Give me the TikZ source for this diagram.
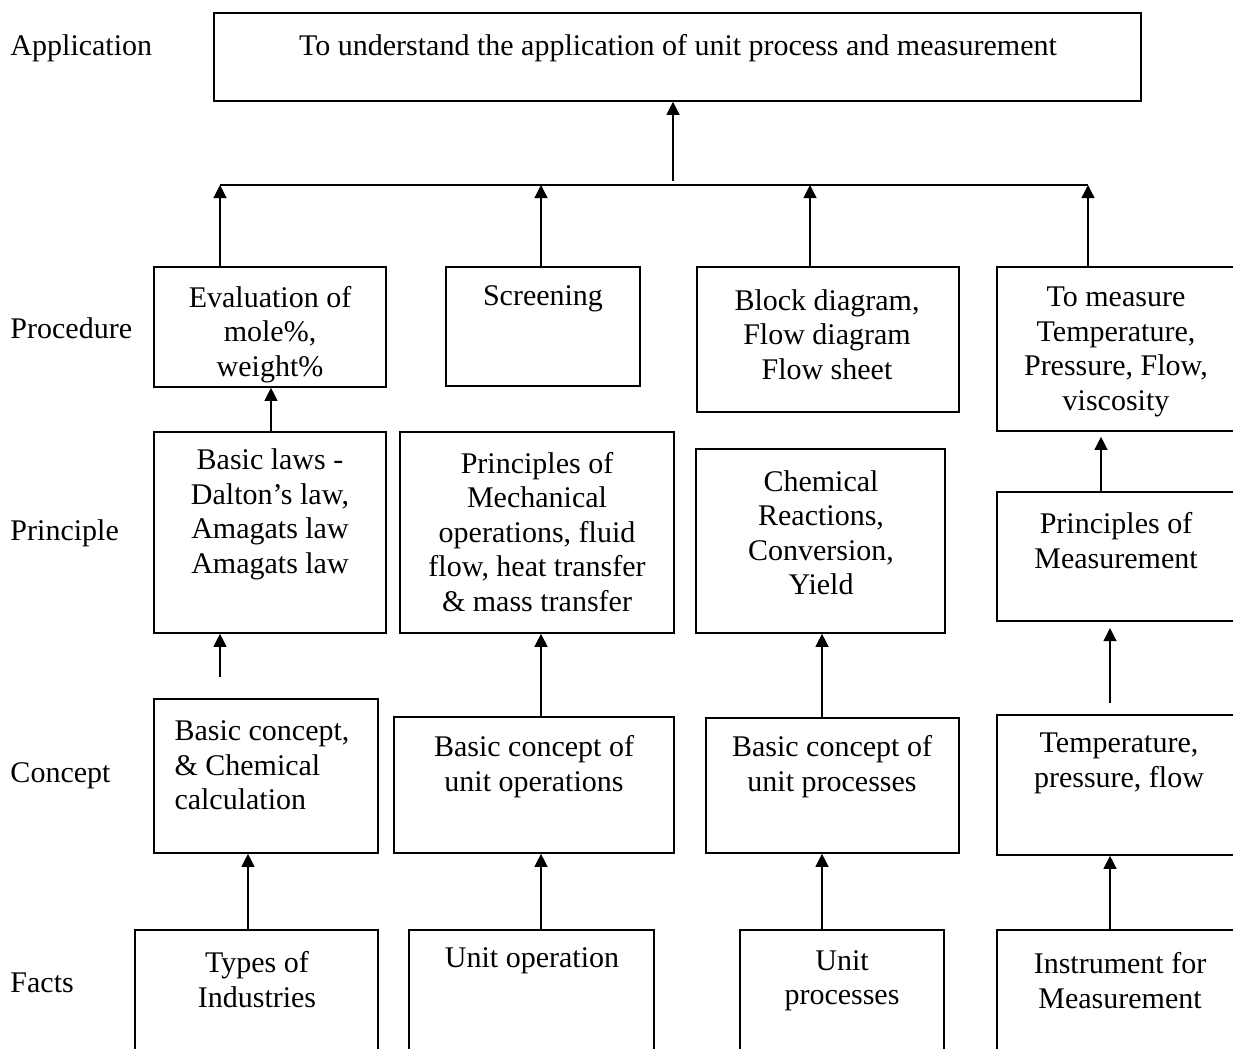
\documentclass[tikz,border=0pt]{standalone}
\usepackage{fontspec}
\setmainfont{Liberation Serif}
\usetikzlibrary{arrows.meta,fit}
\begin{document}
\begin{tikzpicture}[x=0.4pt,y=-0.4pt,
  box/.style={draw, line width=0.65pt, inner sep=0pt},
  txt/.style={inner sep=0pt, align=center, yshift=-1.2pt, font=\fontsize{12}{13.8}\selectfont},
  lbl/.style={inner sep=0pt, anchor=west, yshift=-1.2pt, font=\fontsize{12}{13.8}\selectfont},
  arr/.style={-{Triangle[length=5.2pt,width=5.2pt]}, line width=0.5pt},
  ln/.style={line width=0.5pt}]
\clip (0,0) rectangle (1233,1048);
\fill[white] (0,0) rectangle (1233,1048);

% row labels
\node[lbl] (lApp) at (10,45) {Application};
\node[lbl] (lProc) at (10,325) {Procedure};
\node[lbl] (lPrin) at (10,530) {Principle};
\node[lbl] (lCon) at (10,773) {Concept};
\node[lbl] (lFact) at (10,980) {Facts};

% application
\node[box, fit={(214,13) (1141,101)}] (A) {};
\node[txt] (At) at (678,45) {To understand the application of unit process and measurement};

% procedure
\node[box, fit={(154,267) (386,387)}] (P1) {};
\node[txt] (P1t) at (270,331.5) {Evaluation of\\mole\%,\\weight\%};
\node[box, fit={(446,267) (640,386)}] (P2) {};
\node[txt] (P2t) at (543,296) {Screening};
\node[box, fit={(697,267) (959,412)}] (P3) {};
\node[txt] (P3t) at (827,331.5) {Block diagram,\\Flow diagram\\Flow sheet};
\node[box, fit={(997,267) (1240,431)}] (P4) {};
\node[txt] (P4t) at (1116,349) {To measure\\Temperature,\\Pressure, Flow,\\viscosity};

% principle
\node[box, fit={(154,432) (386,633)}] (R1) {};
\node[txt] (R1t) at (270,511.5) {Basic laws -\\Dalton’s law,\\Amagats law\\Amagats law};
\node[box, fit={(400,432) (674,633)}] (R2) {};
\node[txt] (R2t) at (537,529) {Principles of\\Mechanical\\operations, fluid\\flow, heat transfer\\\& mass transfer};
\node[box, fit={(696,449) (945,633)}] (R3) {};
\node[txt] (R3t) at (821,529.5) {Chemical\\Reactions,\\Conversion,\\Yield};
\node[box, fit={(997,492) (1240,621)}] (R4) {};
\node[txt] (R4t) at (1116,537.5) {Principles of\\Measurement};

% concept
\node[box, fit={(154,699) (378,853)}] (C1) {};
\node[txt, align=left, anchor=west] (C1t) at (174,762.5) {Basic concept,\\\& Chemical\\calculation};
\node[box, fit={(394,717) (674,853)}] (C2) {};
\node[txt] (C2t) at (534,763.5) {Basic concept of\\unit operations};
\node[box, fit={(706,718) (959,853)}] (C3) {};
\node[txt] (C3t) at (832,763.5) {Basic concept of\\unit processes};
\node[box, fit={(997,715) (1240,855)}] (C4) {};
\node[txt] (C4t) at (1119,760.5) {Temperature,\\pressure, flow};

% facts
\node[box, fit={(135,930) (378,1060)}] (F1) {};
\node[txt] (F1t) at (257,976.5) {Types of\\Industries};
\node[box, fit={(409,930) (654,1060)}] (F2) {};
\node[txt] (F2t) at (532,958) {Unit operation};
\node[box, fit={(740,930) (944,1060)}] (F3) {};
\node[txt] (F3t) at (842,977.5) {Unit\\processes};
\node[box, fit={(997,930) (1240,1060)}] (F4) {};
\node[txt] (F4t) at (1120,977.5) {Instrument for\\Measurement};

% column coordinates
\coordinate (L1) at (220,185);
\coordinate (L2) at (541,185);
\coordinate (L3) at (810,185);
\coordinate (L4) at (1088,185);
\coordinate (T0) at (673,181);
\coordinate (k1) at (271,0);
\coordinate (k2) at (248,0);
\coordinate (k3) at (220,0);
\coordinate (k4) at (541,0);
\coordinate (k5) at (822,0);
\coordinate (k6) at (1110,0);
\coordinate (k7) at (1101,0);
\coordinate (C1top) at (220,677);
\coordinate (C4top) at (1110,703);

% connectors
\draw[ln] (L1) -- (L4);
\draw[arr] (T0) -- (T0 |- A.south);
\draw[arr] (P1.north -| L1) -- (L1);
\draw[arr] (P2.north -| L2) -- (L2);
\draw[arr] (P3.north -| L3) -- (L3);
\draw[arr] (P4.north -| L4) -- (L4);

\draw[arr] (R1.north -| k1) -- (P1.south -| k1);
\draw[arr] (R4.north -| k7) -- ([yshift=-2pt]P4.south -| k7);

\draw[arr] (C1top) -- (R1.south -| k3);
\draw[arr] (C2.north -| k4) -- (R2.south -| k4);
\draw[arr] (C3.north -| k5) -- (R3.south -| k5);
\draw[arr] (C4top) -- ([yshift=-2.5pt]R4.south -| k6);

\draw[arr] (F1.north -| k2) -- (C1.south -| k2);
\draw[arr] (F2.north -| k4) -- (C2.south -| k4);
\draw[arr] (F3.north -| k5) -- (C3.south -| k5);
\draw[arr] (F4.north -| k6) -- (C4.south -| k6);
\end{tikzpicture}
\end{document}
